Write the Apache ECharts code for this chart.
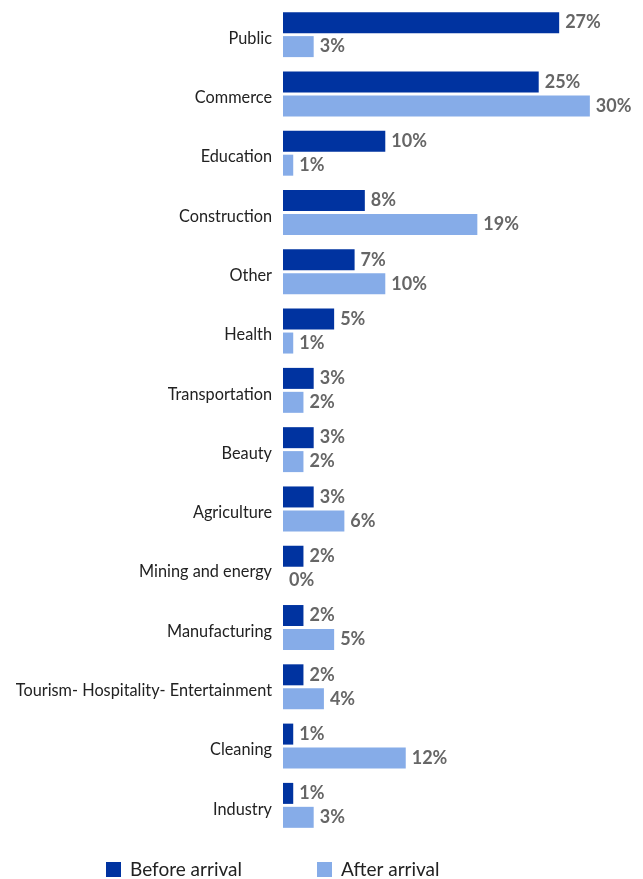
<!DOCTYPE html>
<html>
<head>
<meta charset="utf-8">
<script src="https://cdn.jsdelivr.net/npm/echarts@6/dist/echarts.min.js"></script>
<style>
  html, body { margin: 0; padding: 0; background: #ffffff; }
  #chart { width: 643px; height: 879px; }
</style>
</head>
<body>
<div id="chart"></div>
<script>
// Sectors of employment, shares in percent
const categories = [
  'Public', 'Commerce', 'Education', 'Construction', 'Other', 'Health',
  'Transportation', 'Beauty', 'Agriculture', 'Mining and energy',
  'Manufacturing', 'Tourism- Hospitality- Entertainment', 'Cleaning', 'Industry'
];
const beforeArrival = [27, 25, 10, 8, 7, 5, 3, 3, 3, 2, 2, 2, 1, 1];
const afterArrival  = [3, 30, 1, 19, 10, 1, 2, 2, 6, 0, 5, 4, 12, 3];
const seriesNames = ['Before arrival', 'After arrival'];

const chart = echarts.init(document.getElementById('chart'));

const labelStyle = {
  show: true,
  position: 'right',
  distance: 6,
  formatter: p => p.value + '%',
  color: '#666666',
  fontFamily: 'Lato',
  fontWeight: 'bold',
  fontSize: 18
};

chart.setOption({
  animation: false,
  backgroundColor: '#ffffff',
  grid: { left: 283, top: 5, width: 358, height: 830, containLabel: false },
  legend: {
    top: 855,
    left: 101,
    itemWidth: 15,
    itemHeight: 15,
    itemGap: 75,
    icon: 'rect',
    textStyle: { fontFamily: 'Lato', fontSize: 19, color: '#222222', padding: [0, 0, 0, 4] },
    data: seriesNames
  },
  xAxis: {
    type: 'value',
    min: 0,
    max: 35,
    show: false
  },
  yAxis: {
    type: 'category',
    inverse: true,
    data: categories,
    axisLine: { show: false },
    axisTick: { show: false },
    axisLabel: {
      margin: 11,
      color: '#222222',
      fontFamily: 'Lato',
      fontSize: 16.3,
      verticalAlign: 'top',
      lineHeight: 8
    }
  },
  series: [
    {
      name: seriesNames[0],
      type: 'bar',
      data: beforeArrival,
      barWidth: 21,
      barGap: '14%',
      itemStyle: { color: '#0033A0' },
      label: labelStyle
    },
    {
      name: seriesNames[1],
      type: 'bar',
      data: afterArrival,
      barWidth: 21,
      itemStyle: { color: '#86ACE8' },
      label: labelStyle
    }
  ]
});
</script>
</body>
</html>
